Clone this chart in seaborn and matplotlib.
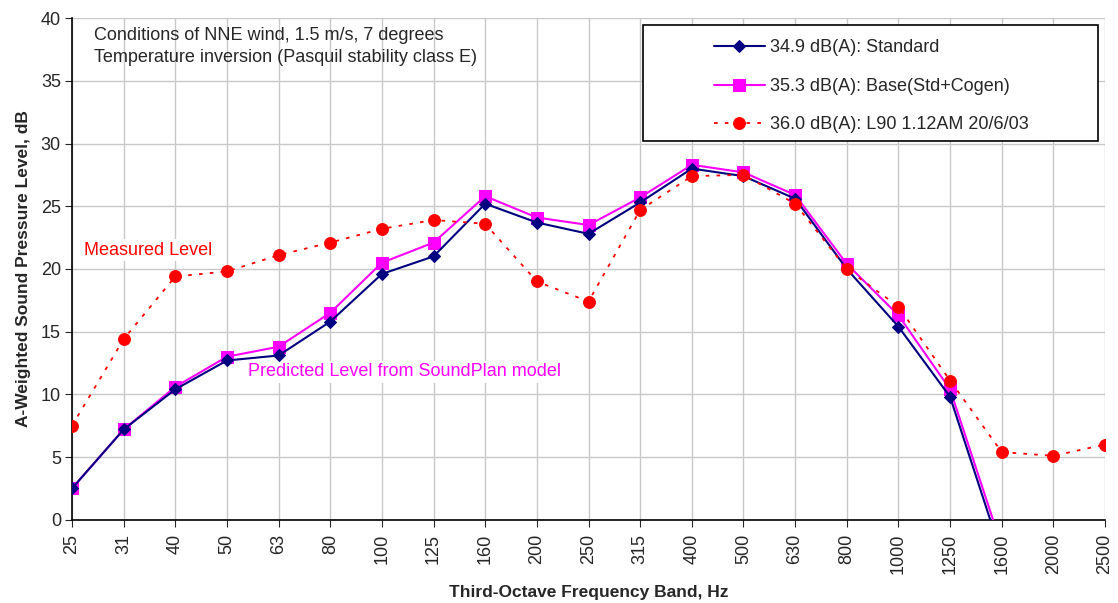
import numpy as np
import pandas as pd
import matplotlib
matplotlib.use("Agg")
import matplotlib.pyplot as plt
import seaborn as sns
from matplotlib.patches import Rectangle

# frequency bands and levels
bands = ['25', '31', '40', '50', '63', '80', '100', '125', '160', '200', '250',
         '315', '400', '500', '630', '800', '1000', '1250', '1600', '2000', '2500']
standard = [2.5, 7.2, 10.4, 12.7, 13.1, 15.8, 19.6, 21.0, 25.2, 23.7, 22.8,
            25.3, 28.0, 27.4, 25.6, 20.0, 15.4, 9.8, -2.8]
base = [2.5, 7.2, 10.6, 13.0, 13.8, 16.5, 20.5, 22.1, 25.8, 24.1, 23.5,
        25.7, 28.3, 27.7, 25.9, 20.4, 16.3, 10.4, -2.1]
measured = [7.5, 14.4, 19.4, 19.8, 21.1, 22.1, 23.2, 23.9, 23.6, 19.0, 17.4,
            24.7, 27.4, 27.5, 25.2, 20.0, 17.0, 11.1, 5.4, 5.1, 6.0]

sns.set_style("white")
plt.rcParams['font.family'] = ['Liberation Sans', 'DejaVu Sans']
FS = 13

fig, ax = plt.subplots(figsize=(11.18, 6.03), dpi=100)
fig.subplots_adjust(left=0.0644, right=0.9884, top=0.970, bottom=0.138)

df_std = pd.DataFrame({'pos': np.arange(len(standard)), 'level': standard})
df_base = pd.DataFrame({'pos': np.arange(len(base)), 'level': base})
df_meas = pd.DataFrame({'pos': np.arange(len(measured)), 'level': measured})

sns.lineplot(data=df_std, x='pos', y='level', ax=ax, color='#000080', lw=1.5,
             marker='D', markersize=6, markeredgecolor='#000080',
             label='34.9 dB(A): Standard', zorder=4)
sns.lineplot(data=df_base, x='pos', y='level', ax=ax, color='#FF00FF', lw=1.5,
             marker='s', markersize=8, markeredgecolor='#FF00FF',
             label='35.3 dB(A): Base(Std+Cogen)', zorder=3)
sns.lineplot(data=df_meas, x='pos', y='level', ax=ax, color='#FF0000', lw=1.3,
             linestyle=(0, (2, 4)), marker='o', markersize=8.5,
             markeredgecolor='#FF0000', label='36.0 dB(A): L90 1.12AM 20/6/03',
             zorder=5)

ax.set_xlim(0, len(bands) - 1)
ax.set_ylim(0, 40)
ax.set_xticks(np.arange(len(bands)))
ax.set_xticklabels(bands, rotation=90, fontsize=FS)
ax.set_yticks(np.arange(0, 41, 5))
ax.tick_params(axis='y', labelsize=FS, length=5, direction='out', left=True, pad=3)
ax.tick_params(axis='x', length=5, direction='out', bottom=True, pad=5)
ax.grid(True, color='#c8c8c8', lw=1)
ax.set_axisbelow(True)
for s in ['top', 'right']:
    ax.spines[s].set_visible(False)
for s in ['left', 'bottom']:
    ax.spines[s].set_color('black')
    ax.spines[s].set_linewidth(1.2)

ax.set_xlabel('Third-Octave Frequency Band, Hz', fontsize=12.5, fontweight='bold', labelpad=8)
ax.set_ylabel('A-Weighted Sound Pressure Level, dB', fontsize=12.5, fontweight='bold', labelpad=7)

ax.text(0.43, 39.3, 'Conditions of NNE wind, 1.5 m/s, 7 degrees\nTemperature inversion (Pasquil stability class E)',
        fontsize=FS, va='top', ha='left', linespacing=1.42)
ax.text(0.23, 21.5, 'Measured Level', color='#FF0000', fontsize=FS, va='center', ha='left',
        bbox=dict(facecolor='white', edgecolor='none', pad=2), zorder=2)
ax.text(3.41, 11.8, 'Predicted Level from SoundPlan model', color='#FF00FF', fontsize=FS,
        va='center', ha='left', bbox=dict(facecolor='white', edgecolor='none', pad=2), zorder=2)

# legend frame drawn separately (wide box, entries indented)
ax.add_patch(Rectangle((0.5528, 0.755), 0.4404, 0.231, transform=ax.transAxes,
                       facecolor='white', edgecolor='black', lw=1.2, zorder=6))
leg = ax.legend(loc='upper left', bbox_to_anchor=(0.6215, 0.958), fontsize=FS, frameon=False,
                borderpad=0, labelspacing=1.2, handlelength=2.8, handletextpad=0.3,
                borderaxespad=0)
leg.set_zorder(7)

fig.savefig('out.png', dpi=100)
